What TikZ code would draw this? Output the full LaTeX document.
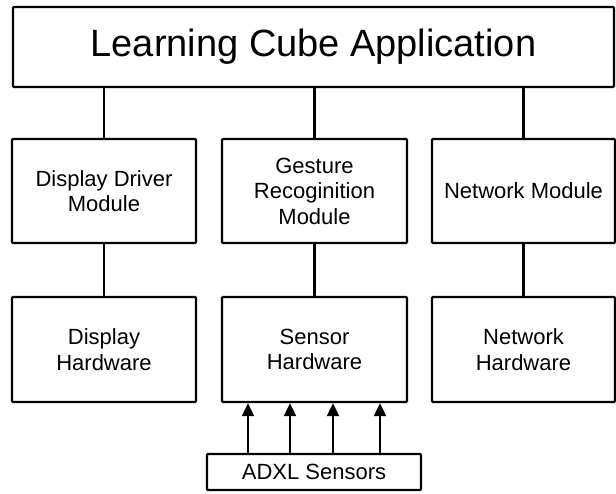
\documentclass[tikz,border=0pt]{standalone}
\usepackage{fontspec}
\setmainfont{Liberation Sans}
\usetikzlibrary{arrows.meta}
\begin{document}
\begin{tikzpicture}[x=1pt,y=-1pt,
  box/.style={draw,line width=2.4pt,rounded corners=1pt,inner sep=0pt,align=center,
    font=\fontsize{22}{25.5}\selectfont},
  link/.style={line width=2.2pt},
  arr/.style={line width=2.2pt,-{Triangle[width=12pt,length=13pt]}}]
\useasboundingbox (0,0) rectangle (616,493);
\node[box,minimum width=601pt,minimum height=80pt,font=\fontsize{38}{44}\selectfont] (app) at (313.5,47) {Learning Cube Application};
\node[box,minimum width=184pt,minimum height=104pt] (ddm) at (104,191) {Display Driver\\Module};
\node[box,minimum width=185pt,minimum height=104pt] (grm) at (314.5,191) {Gesture\\Recoginition\\Module};
\node[box,minimum width=183pt,minimum height=104pt] (nm) at (523.5,191) {Network Module};
\node[box,minimum width=184pt,minimum height=105pt] (dh) at (104,349.5) {Display\\Hardware};
\node[box,minimum width=185pt,minimum height=105pt] (sh) at (314.5,349.5) {Sensor\\Hardware};
\node[box,minimum width=183pt,minimum height=105pt] (nh) at (523.5,349.5) {Network\\Hardware};
\node[box,minimum width=214pt,minimum height=36pt] (adxl) at (314,472) {ADXL Sensors};
\foreach \m in {ddm,grm,nm} \draw[link] (app.south -| \m.north) -- (\m.north);
\draw[link] (ddm) -- (dh);
\draw[link] (grm) -- (sh);
\draw[link] (nm) -- (nh);
\foreach \x in {248,290,333,380} \draw[arr] (adxl.north -| \x,0) -- (sh.south -| \x,0);
\end{tikzpicture}
\end{document}
